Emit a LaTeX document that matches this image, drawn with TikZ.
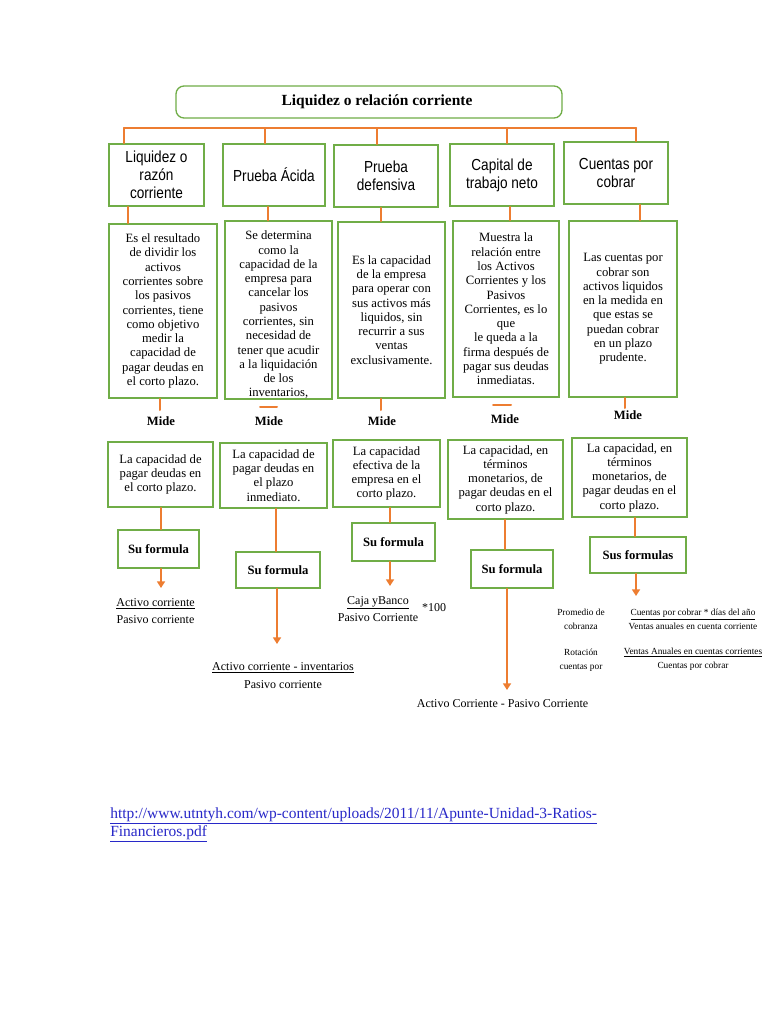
\documentclass[tikz,border=0pt]{standalone}
\usepackage{fontspec}
\setmainfont{Liberation Serif}
\newfontfamily\headfont{Liberation Sans}[FakeStretch=0.85]
\usetikzlibrary{positioning}
\usetikzlibrary{arrows.meta}
\definecolor{verde}{RGB}{112,173,71}
\definecolor{naranja}{RGB}{237,125,49}
\definecolor{enlace}{RGB}{40,40,200}
\begin{document}
\begin{tikzpicture}[x=0.75pt,y=-0.75pt,line cap=round,
  caja/.style={draw=verde,line width=1.3pt,inner sep=0pt,align=center},
  titulo/.style={caja,rounded corners=6pt,line width=1pt,minimum width=289.5pt,minimum height=24pt,font=\bfseries\fontsize{11.6}{13}\selectfont},
  cabeza/.style={caja,minimum height=46.5pt,font=\headfont\fontsize{12}{13.5}\selectfont},
  texto/.style={caja,minimum height=132pt,font=\fontsize{9.5}{10.7}\selectfont},
  mide/.style={inner sep=0pt,font=\bfseries\fontsize{9.5}{11}\selectfont},
  capac/.style={caja,font=\fontsize{9.5}{10.7}\selectfont},
  formbox/.style={caja,font=\bfseries\fontsize{9.5}{11}\selectfont},
  formula/.style={inner sep=0pt,align=center,font=\fontsize{9}{13}\selectfont},
  chico/.style={inner sep=0pt,align=center,font=\fontsize{7}{10.5}\selectfont},
  linea/.style={draw=naranja,line width=1.5pt},
  flecha/.style={draw=naranja,line width=1.5pt,-{Triangle[width=6pt,length=5pt]}}]
\fill[white] (0,0) rectangle (768,1024);
\useasboundingbox (0,0) rectangle (768,1024);
\node[titulo] (tit) at (369,102) {\hspace*{12pt}Liquidez o relación corriente};
\coordinate (barra) at (380,128);
\node[cabeza,minimum width=71.25pt] (h1) at (156.5,175) {Liquidez o\\razón\\corriente};
\node[cabeza,minimum width=76.5pt] (h2) at (274,175) {Prueba Ácida};
\node[cabeza,minimum width=78pt] (h3) at (386,176) {Prueba\\defensiva};
\node[cabeza,minimum width=78pt] (h4) at (502,175) {Capital de\\trabajo neto};
\node[cabeza,minimum width=78pt] (h5) at (616,173) {Cuentas por\\cobrar};
\draw[linea] (124,0 |- barra) -- (636,0 |- barra);
\foreach \c/\n in {124/h1,265/h2,377/h3,507/h4,636/h5}
  \draw[linea] (\c,0 |- barra) -- (\c,0 |- \n.north);
\node[texto,minimum width=81pt,minimum height=130.5pt] (d1) at (163,311) {Es el resultado\\de dividir los\\activos\\corrientes sobre\\los pasivos\\corrientes, tiene\\como objetivo\\medir la\\capacidad de\\pagar deudas en\\el corto plazo.};
\node[texto,minimum width=80.25pt] (d2) at (278.5,310) {\rule{0pt}{14pt}Se determina\\como la\\capacidad de la\\empresa para\\cancelar los\\pasivos\\corrientes, sin\\necesidad de\\tener que acudir\\a la liquidación\\de los\\inventarios,};
\node[texto,minimum width=80.25pt] (d3) at (391.5,310) {Es la capacidad\\de la empresa\\para operar con\\sus activos más\\liquidos, sin\\recurrir a sus\\ventas\\exclusivamente.};
\node[texto,minimum width=79.5pt] (d4) at (506,309) {Muestra la\\relación entre\\los Activos\\Corrientes y los\\Pasivos\\Corrientes, es lo\\que\\le queda a la\\firma después de\\pagar sus deudas\\inmediatas.};
\node[texto,minimum width=81pt] (d5) at (623,309) {Las cuentas por\\cobrar son\\activos liquidos\\en la medida en\\que estas se\\puedan cobrar\\en un plazo\\prudente.};
\draw[linea] (128,0 |- h1.south) -- (128,0 |- d1.north);
\draw[linea] (268,0 |- h2.south) -- (268,0 |- d2.north);
\draw[linea] (381,0 |- h3.south) -- (381,0 |- d3.north);
\draw[linea] (510,0 |- h4.south) -- (510,0 |- d4.north);
\draw[linea] (640,0 |- h5.south) -- (640,0 |- d5.north);
\node[mide] (m1) at (161,421) {Mide};
\node[mide] (m2) at (269,421) {Mide};
\node[mide] (m3) at (382,421) {Mide};
\node[mide] (m4) at (505,419) {Mide};
\node[mide] (m5) at (628,415) {Mide};
\draw[linea] (160,0 |- d1.south) -- (160,410);
\draw[linea] (260,407) -- (277,407);
\draw[linea] (381,0 |- d3.south) -- (381,410);
\draw[linea] (493,405) -- (511,405);
\draw[linea] (625,0 |- d5.south) -- (625,408);
\node[capac,minimum width=78.75pt,minimum height=48.75pt] (r1) at (160.5,474.5) {La capacidad de\\pagar deudas en\\el corto plazo.};
\node[capac,minimum width=80.25pt,minimum height=48.75pt] (r2) at (273.5,475.5) {La capacidad de\\pagar deudas en\\el plazo\\inmediato.};
\node[capac,minimum width=80.25pt,minimum height=50.25pt] (r3) at (386.5,473.5) {La capacidad\\efectiva de la\\empresa en el\\corto plazo.};
\node[capac,minimum width=86.25pt,minimum height=59.25pt] (r4) at (505.5,479.5) {La capacidad, en\\términos\\monetarios, de\\pagar deudas en el\\corto plazo.};
\node[capac,minimum width=86.25pt,minimum height=59.25pt] (r5) at (629.5,477.5) {La capacidad, en\\términos\\monetarios, de\\pagar deudas en el\\corto plazo.};
\node[formbox,minimum width=60.75pt,minimum height=28.5pt] (f1) at (158.5,549) {Su formula};
\node[formbox,minimum width=63pt,minimum height=27pt] (f2) at (278,570) {Su formula};
\node[formbox,minimum width=62.25pt,minimum height=28.5pt] (f3) at (393.5,542) {Su formula};
\node[formbox,minimum width=61.5pt,minimum height=28.5pt] (f4) at (512,569) {Su formula};
\node[formbox,minimum width=72pt,minimum height=27pt] (f5) at (638,555) {Sus formulas};
\draw[linea] (161,0 |- r1.south) -- (161,0 |- f1.north);
\draw[linea] (276,0 |- r2.south) -- (276,0 |- f2.north);
\draw[linea] (390,0 |- r3.south) -- (390,0 |- f3.north);
\draw[linea] (505,0 |- r4.south) -- (505,0 |- f4.north);
\draw[linea] (635,0 |- r5.south) -- (635,0 |- f5.north);
\node[formula] (form1) at (155.5,611) {\underline{Activo corriente}\\Pasivo corriente};
\node[formula] (form2) at (283,675.5) {\underline{Activo corriente - inventarios}\\Pasivo corriente};
\node[formula] (form3) at (378,609) {\underline{Caja yBanco}\\Pasivo Corriente};
\node[formula] (por) at (434,608) {*100};
\node[formula] (form4) at (502.5,704) {Activo Corriente - Pasivo Corriente};
\node[chico] (prom) at (581,619) {Promedio de\\cobranza};
\node[chico] (frac1) at (693,619) {\underline{Cuentas por cobrar * días del año}\\Ventas anuales en cuenta corriente};
\node[chico] (rot) at (581,660) {Rotación\\cuentas por};
\node[chico] (frac2) at (693,659.5) {\underline{Ventas Anuales en cuentas corrientes}\\Cuentas por cobrar};
\draw[flecha] (161,0 |- f1.south) -- (161,588);
\draw[flecha] (277,0 |- f2.south) -- (277,644);
\draw[flecha] (390,0 |- f3.south) -- (390,586);
\draw[flecha] (507,0 |- f4.south) -- (507,690);
\draw[flecha] (636,0 |- f5.south) -- (636,596);
\node[anchor=north west,inner sep=0pt,align=left,text=enlace,font=\fontsize{11.6}{13.5}\selectfont] (url) at (110,807) {\underline{http://www.utntyh.com/wp-content/uploads/2011/11/Apunte-Unidad-3-Ratios-}\\\underline{Financieros.pdf}};
\end{tikzpicture}
\end{document}
